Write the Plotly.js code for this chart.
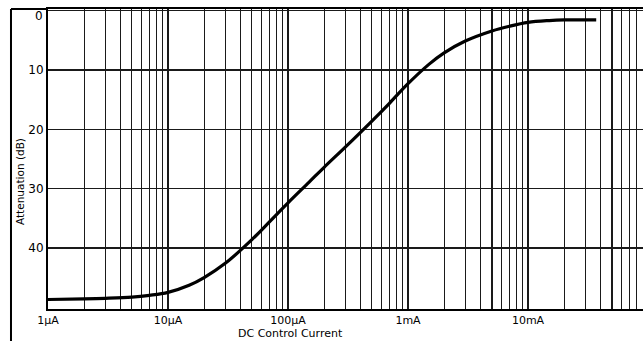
<!DOCTYPE html>
<html>
<head>
<meta charset="utf-8">
<script src="https://cdn.plot.ly/plotly-3.0.1.min.js"></script>
<style>html,body{margin:0;padding:0;background:#fff;}#chart{width:643px;height:341px;}</style>
</head>
<body>
<div id="chart"></div>
<script>
// Data (current in µA, attenuation in dB)
const current_uA = [1, 2, 3, 5, 7, 10, 15, 20, 30, 50, 70, 100, 150, 200, 300, 500, 700, 1000, 1500, 2000, 3000, 5000, 7000, 10000, 15000, 20000, 37000];
const attenuation_dB = [48.7, 48.6, 48.5, 48.3, 48.0, 47.5, 46.3, 45.0, 42.6, 38.6, 35.6, 32.4, 28.9, 26.4, 23.0, 18.6, 15.6, 12.3, 9.0, 7.1, 5.1, 3.4, 2.6, 1.95, 1.65, 1.55, 1.55];

// Axis ticks
const decades_uA = [1, 10, 100, 1000, 10000];
const decadeLabels = ['1µA', '10µA', '100µA', '1mA', '10mA'];
const multipliers = [1, 2, 3, 4, 5, 6, 7, 8, 9];
const yTicks = [0, 10, 20, 30, 40];
const yTickLabels = ['', '10', '20', '30', '40'];
const yTopLabel = '0';

const xTickVals = [], xTickText = [];
decades_uA.forEach((d, i) => {
  multipliers.forEach(m => {
    xTickVals.push(d * m);
    xTickText.push(m === 1 ? decadeLabels[i] : '');
  });
});

const font = {family: 'DejaVu Sans, Arial, sans-serif', color: '#000'};

const trace = {
  x: current_uA,
  y: attenuation_dB,
  type: 'scatter',
  mode: 'lines',
  line: {color: '#000', width: 3.2, shape: 'spline', smoothing: 1},
  hoverinfo: 'skip'
};

const layout = {
  width: 643,
  height: 341,
  margin: {l: 48, r: 0, t: 9, b: 32},
  paper_bgcolor: '#fff',
  plot_bgcolor: '#fff',
  showlegend: false,
  font: Object.assign({size: 11}, font),
  xaxis: {
    type: 'log',
    range: [0, 4.958],
    tickvals: xTickVals,
    ticktext: xTickText,
    ticks: '',
    showgrid: true,
    gridcolor: '#1a1a1a',
    gridwidth: 1.2,
    showline: true,
    linecolor: '#000',
    linewidth: 2,
    mirror: true,
    zeroline: false,
    tickfont: Object.assign({size: 11}, font),
    fixedrange: true
  },
  yaxis: {
    range: [50.3, -0.3],
    tickvals: yTicks,
    ticktext: yTickLabels,
    ticks: '',
    showgrid: true,
    gridcolor: '#1a1a1a',
    gridwidth: 1.2,
    showline: true,
    linecolor: '#000',
    linewidth: 2,
    zeroline: false,
    tickfont: Object.assign({size: 12}, font),
    fixedrange: true
  },
  shapes: [
    {type: 'line', xref: 'paper', yref: 'paper', x0: -0.0622, x1: -0.0622, y0: 1, y1: -0.11, line: {color: '#000', width: 2}},
    {type: 'line', xref: 'paper', yref: 'paper', x0: -0.0622, x1: 0, y0: 1, y1: 1, line: {color: '#000', width: 2}}
  ],
  annotations: [
    {text: yTopLabel, xref: 'paper', yref: 'paper', x: 0, xshift: -3, y: (309 - 16) / 300, showarrow: false, xanchor: 'right', yanchor: 'middle', font: Object.assign({size: 12}, font)},
    {text: 'DC Control Current', xref: 'paper', yref: 'paper', x: (290 - 48) / 595, y: (309 - 333) / 300, showarrow: false, xanchor: 'center', yanchor: 'middle', font: Object.assign({size: 11}, font)},
    {text: 'Attenuation (dB)', xref: 'paper', yref: 'paper', x: (20 - 48) / 595, y: (309 - 182) / 300, showarrow: false, textangle: -90, xanchor: 'center', yanchor: 'middle', font: Object.assign({size: 10.5}, font)}
  ]
};

Plotly.newPlot('chart', [trace], layout, {staticPlot: true, displayModeBar: false});
</script>
</body>
</html>
